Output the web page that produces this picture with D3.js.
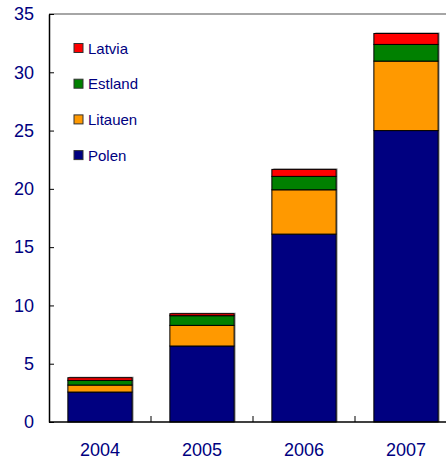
<!DOCTYPE html>
<html>
<head>
<meta charset="utf-8">
<script src="https://cdn.jsdelivr.net/npm/d3@7"></script>
<style>
  body { margin: 0; background: #fff; }
  text { font-family: "Liberation Sans", Arial, sans-serif; }
</style>
</head>
<body>
<div id="chart"></div>
<script>
width = 446
height = 464

margin = ({top: 14, right: -11, bottom: 42, left: 49})

// data
years = ['2004', '2005', '2006', '2007']
polen = [2.57, 6.52, 16.12, 25.0]
litauen = [0.6, 1.77, 3.8, 5.96]
estland = [0.4, 0.83, 1.15, 1.43]
latvia = [0.23, 0.17, 0.6, 0.94]
seriesNames = ['Polen', 'Litauen', 'Estland', 'Latvia']
seriesColors = ['#000080', '#FF9900', '#008000', '#FF0000']
yTicks = [0, 5, 10, 15, 20, 25, 30, 35]

let rows = years.map((yr, i) => ({year: yr, Polen: polen[i], Litauen: litauen[i], Estland: estland[i], Latvia: latvia[i]}))
let stacked = d3.stack().keys(seriesNames)(rows)

let color = d3.scaleOrdinal().domain(seriesNames).range(seriesColors)

let x = d3.scaleBand()
	.domain(years)
	.range([margin.left, width - margin.right])
	.paddingInner(0.37)
	.paddingOuter(0.185)

let y = d3.scaleLinear()
	.domain([0, 35])
	.range([height - margin.bottom, margin.top])

const svg = d3.select('#chart').append('svg')
	.attr('width', width)
	.attr('height', height)

// plot frame (top line is grey)
svg.append('line')
	.attr('x1', margin.left).attr('x2', width)
	.attr('y1', y(35)).attr('y2', y(35))
	.attr('stroke', '#888').attr('stroke-width', 1.5)

// bars
let layer = svg.selectAll('.layer')
	.data(stacked)
	.enter().append('g')
	.attr('class', 'layer')
	.attr('fill', d => color(d.key))

// grey shadow behind each full column
svg.insert('g', '.layer').selectAll('rect')
	.data(stacked[stacked.length - 1])
	.enter().append('rect')
	.attr('x', d => x(d.data.year) + 1.5)
	.attr('y', d => y(d[1]) - 1)
	.attr('width', x.bandwidth())
	.attr('height', d => y(0) - y(d[1]) + 1)
	.attr('fill', '#999')

layer.selectAll('rect')
	.data(d => d)
	.enter().append('rect')
	.attr('x', d => x(d.data.year))
	.attr('y', d => y(d[1]))
	.attr('width', x.bandwidth())
	.attr('height', d => y(d[0]) - y(d[1]))
	.attr('stroke', '#000')
	.attr('stroke-width', 1)

// y axis
svg.append('g')
	.attr('transform', `translate(${margin.left},0)`)
	.call(d3.axisLeft(y).tickValues(yTicks).tickSize(-5).tickPadding(15).tickSizeOuter(0))
	.call(g => g.select('.domain').attr('stroke', '#000').attr('stroke-width', 1.5))
	.call(g => g.selectAll('.tick line').attr('stroke', '#000'))
	.call(g => g.selectAll('.tick text')
		.attr('fill', '#000080')
		.attr('font-size', 18)
		.attr('font-family', '"Liberation Sans", Arial, sans-serif'))

// x axis
let step = x.step()
svg.append('g')
	.attr('transform', `translate(0,${y(0)})`)
	.call(d3.axisBottom(x).tickSize(0).tickPadding(21))
	.call(g => g.select('.domain').remove())
	.call(g => g.selectAll('.tick text')
		.attr('fill', '#000080')
		.attr('font-size', 18)
		.attr('font-family', '"Liberation Sans", Arial, sans-serif'))

svg.append('line')
	.attr('x1', margin.left).attr('x2', width)
	.attr('y1', y(0)).attr('y2', y(0))
	.attr('stroke', '#000').attr('stroke-width', 1.5)

// separator ticks between the categories
svg.selectAll('.sep')
	.data(years.slice(1))
	.enter().append('line')
	.attr('class', 'sep')
	.attr('x1', d => x(d) - step * x.paddingInner() / 2)
	.attr('x2', d => x(d) - step * x.paddingInner() / 2)
	.attr('y1', y(0))
	.attr('y2', y(0) - 6)
	.attr('stroke', '#000')

// legend
let legendOrder = ['Latvia', 'Estland', 'Litauen', 'Polen']
let legend = svg.selectAll('.legend')
	.data(legendOrder)
	.enter().append('g')
	.attr('class', 'legend')
	.attr('transform', (d, i) => `translate(74,${48 + i * 35.7})`)

legend.append('rect')
	.attr('x', 0)
	.attr('y', -4.5)
	.attr('width', 9)
	.attr('height', 9)
	.attr('fill', d => color(d))
	.attr('stroke', '#333')
	.attr('stroke-width', 1)

legend.append('text')
	.attr('x', 14)
	.attr('y', 5.5)
	.attr('font-size', 15)
	.attr('fill', '#000080')
	.text(d => d)
</script>
</body>
</html>
